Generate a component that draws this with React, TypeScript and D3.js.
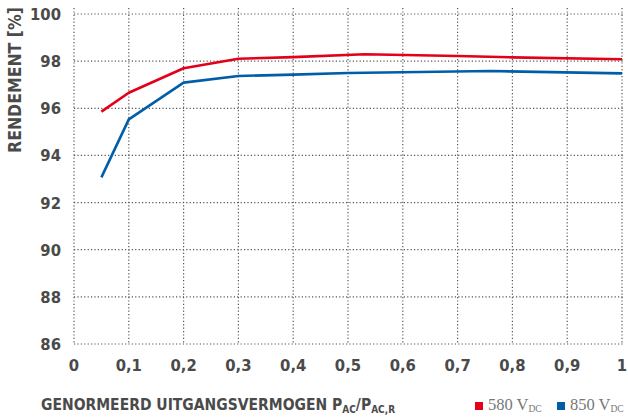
import React from "react";
import * as d3 from "d3";

const xTicks = [0, 0.1, 0.2, 0.3, 0.4, 0.5, 0.6, 0.7, 0.8, 0.9, 1];
const yTicks = [86, 88, 90, 92, 94, 96, 98, 100];
const loadRed = [0.05, 0.1, 0.2, 0.3, 0.4, 0.53, 0.7, 0.8, 1.0];
const effRed = [95.86, 96.66, 97.7, 98.1, 98.17, 98.29, 98.22, 98.16, 98.08];
const loadBlue = [0.05, 0.1, 0.2, 0.3, 0.4, 0.5, 0.76, 1.0];
const effBlue = [93.07, 95.53, 97.09, 97.37, 97.43, 97.5, 97.58, 97.48];
const RED = "#e2001a";
const BLUE = "#005ea8";
const TXT = "#4a4a4a";
const FONT = "'DejaVu Sans Condensed', 'Liberation Sans Narrow', 'Open Sans', sans-serif";

export default function App() {
  const W = 628, H = 420;
  const x = d3.scaleLinear().domain([0, 1]).range([74, 622]);
  const y = d3.scaleLinear().domain([86, 100]).range([344, 14]);
  const line = d3.line<[number, number]>().x(d => x(d[0])).y(d => y(d[1])).curve(d3.curveLinear);
  const red = line(loadRed.map((v, i) => [v, effRed[i]]));
  const blue = line(loadBlue.map((v, i) => [v, effBlue[i]]));
  const fmt = (v: number) => (v === 0 || v === 1 ? String(v) : String(v).replace(".", ","));
  return (
    <svg width={W} height={H} style={{ position: "absolute", left: 0, top: 0 }}>
      <rect width={W} height={H} fill="#fff" />
      <g stroke="#555" strokeWidth={1.2} strokeDasharray="1.2 2.2" fill="none">
        {yTicks.map(t => (
          <line key={"h" + t} x1={x(0)} x2={x(1) + 2} y1={y(t)} y2={y(t)} />
        ))}
        {xTicks.map(t => (
          <line key={"v" + t} x1={x(t)} x2={x(t)} y1={8} y2={y(86)} />
        ))}
      </g>
      <path d={red ?? ""} fill="none" stroke={RED} strokeWidth={2.6} strokeLinejoin="round" />
      <path d={blue ?? ""} fill="none" stroke={BLUE} strokeWidth={2.6} strokeLinejoin="round" />
      <g fill={TXT} fontFamily={FONT} fontWeight="bold" fontSize={16.5}>
        {yTicks.map(t => (
          <text key={"yl" + t} x={61} y={y(t)} dy="0.36em" textAnchor="end">{t}</text>
        ))}
        {xTicks.map(t => (
          <text key={"xl" + t} x={x(t)} y={371} textAnchor="middle">{fmt(t)}</text>
        ))}
        <text transform="translate(21,80) rotate(-90)" textAnchor="middle" fontSize={17.5}>RENDEMENT [%]</text>
        <text x={41} y={410} fontSize={15.5}>
          GENORMEERD UITGANGSVERMOGEN P<tspan fontSize={10} dy={3}>AC</tspan>
          <tspan dy={-3}>/P</tspan><tspan fontSize={10} dy={3}>AC,R</tspan>
        </text>
      </g>
      <g fontFamily="'Liberation Serif', serif" fill="#777" fontSize={16.5}>
        <rect x={475} y={402} width={8} height={8} fill={RED} />
        <text x={488} y={410}>580 V<tspan fontSize={9.5} dy={2}>DC</tspan></text>
        <rect x={557} y={402} width={8} height={8} fill={BLUE} />
        <text x={570} y={410}>850 V<tspan fontSize={9.5} dy={2}>DC</tspan></text>
      </g>
    </svg>
  );
}
